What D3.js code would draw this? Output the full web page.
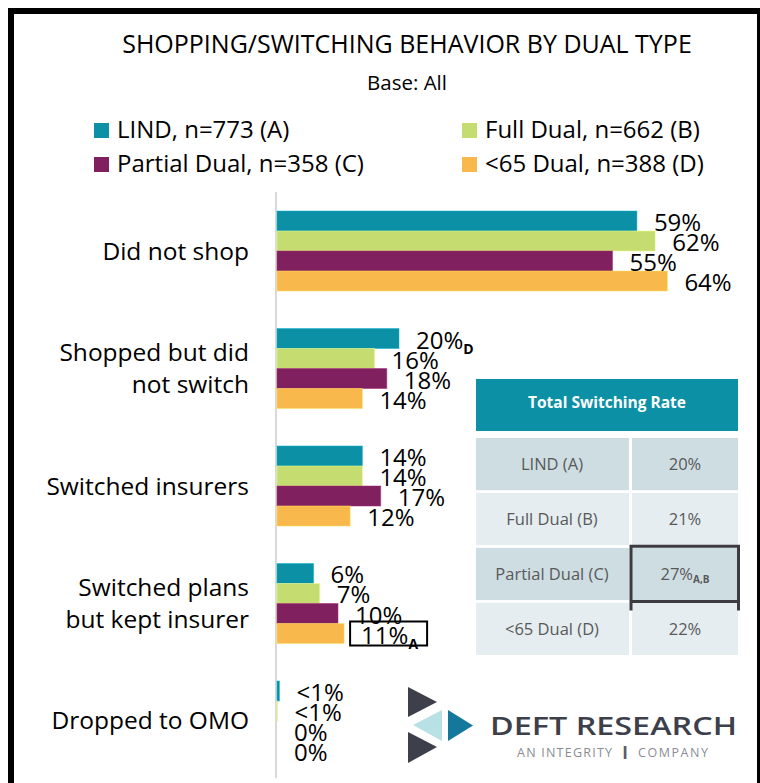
<!DOCTYPE html>
<html>
<head>
<meta charset="utf-8">
<script src="https://cdn.jsdelivr.net/npm/d3@7"></script>
<style>
  html, body { margin: 0; padding: 0; background: #fff; }
  svg { display: block; }
  text { font-family: "Open Sans", "Noto Sans", sans-serif; }
</style>
</head>
<body>
<svg id="chart" width="760" height="783"></svg>
<script>
// ---- data ----
const categories = ["Did not shop", "Shopped but did not switch", "Switched insurers",
                    "Switched plans but kept insurer", "Dropped to OMO"];
const categoryLines = [["Did not shop"], ["Shopped but did", "not switch"], ["Switched insurers"],
                       ["Switched plans", "but kept insurer"], ["Dropped to OMO"]];
const seriesNames = ["LIND, n=773 (A)", "Full Dual, n=662 (B)", "Partial Dual, n=358 (C)", "<65 Dual, n=388 (D)"];
const seriesColors = ["#0b90a6", "#c5dd70", "#80205e", "#f8b84b"];

const lindValues     = [59, 20, 14, 6, 0.4];
const fullDualValues = [62, 16, 14, 7, 0.1];
const partialValues  = [55, 18, 17, 10, 0];
const under65Values  = [64, 14, 12, 11, 0];

// significance letters (higher than the named group)
const lindSig     = ["", "D", "", "", ""];
const fullDualSig = ["", "", "", "", ""];
const partialSig  = ["", "", "", "", ""];
const under65Sig  = ["", "", "", "A", ""];

const seriesValues = [lindValues, fullDualValues, partialValues, under65Values];
const seriesSig = [lindSig, fullDualSig, partialSig, under65Sig];

const tableRows   = ["LIND (A)", "Full Dual (B)", "Partial Dual (C)", "<65 Dual (D)"];
const tableValues = [20, 21, 27, 22];
const tableSig    = ["", "", "A,B", ""];

// ---- layout ----
const svg = d3.select("#chart");

const x = d3.scaleLinear().domain([0, 100]).range([277, 887]);
const y = d3.scaleBand().domain(categories).range([211, 761]).paddingInner(0.319).paddingOuter(0);
const ySub = d3.scaleBand().domain(seriesNames).range([0, y.bandwidth()]);
const color = d3.scaleOrdinal().domain(seriesNames).range(seriesColors);

const fmt = v => (v > 0 && v < 1) ? "<1%" : Math.round(v) + "%";

// frame
svg.append("rect").attr("x", 8).attr("y", 8).attr("width", 752).attr("height", 6).attr("fill", "#000");
svg.append("rect").attr("x", 8).attr("y", 8).attr("width", 6).attr("height", 775).attr("fill", "#000");
svg.append("rect").attr("x", 757).attr("y", 8).attr("width", 3).attr("height", 775).attr("fill", "#000");

// title
svg.append("text").attr("x", 407).attr("y", 53).attr("text-anchor", "middle")
  .attr("font-size", 25).attr("fill", "#000")
  .text("SHOPPING/SWITCHING BEHAVIOR BY DUAL TYPE");
svg.append("text").attr("x", 407).attr("y", 90).attr("text-anchor", "middle")
  .attr("font-size", 20.5).attr("fill", "#000").text("Base: All");

// legend
const legendPos = [[94, 123], [462, 123], [94, 157], [462, 157]];
const legend = svg.append("g").selectAll("g").data(seriesNames).join("g")
  .attr("transform", (d, i) => `translate(${legendPos[i][0]},${legendPos[i][1]})`);
legend.append("rect").attr("width", 15).attr("height", 15).attr("fill", d => color(d));
legend.append("text").attr("x", 23).attr("y", 15).attr("font-size", 24).attr("fill", "#000").text(d => d);

// axis line
const yAxis = d3.axisLeft(y).tickSize(0).tickFormat("");
svg.append("g").attr("transform", "translate(276,0)").call(yAxis)
  .call(g => g.select(".domain").attr("stroke", "#d9d9d9").attr("stroke-width", 2)
    .attr("d", "M0,192V778"));

// category labels
const catG = svg.append("g").selectAll("text").data(categories).join("text")
  .attr("text-anchor", "end")
  .attr("font-size", 24.5)
  .attr("fill", "#000");
catG.each(function(d, i) {
  const lines = categoryLines[i];
  const cy = y(d) + y.bandwidth() / 2;
  const lh = 32;
  const t = d3.select(this);
  lines.forEach((ln, j) => {
    t.append("tspan").attr("x", 249)
      .attr("y", cy + (j - (lines.length - 1) / 2) * lh + 8.5)
      .text(ln);
  });
});

// bars
const flat = [];
seriesNames.forEach((s, si) => {
  categories.forEach((c, ci) => {
    flat.push({ series: s, cat: c, value: seriesValues[si][ci], sig: seriesSig[si][ci], si, ci });
  });
});

svg.append("g").selectAll("rect").data(flat).join("rect")
  .attr("x", x(0))
  .attr("y", d => y(d.cat) + ySub(d.series))
  .attr("width", d => x(d.value) - x(0))
  .attr("height", ySub.bandwidth())
  .attr("fill", d => color(d.series))
  .attr("stroke", d => d3.color(color(d.series)).brighter(0.6))
  .attr("stroke-opacity", 0.5)
  .attr("stroke-width", 1);

// value labels
const labels = svg.append("g").selectAll("text").data(flat).join("text")
  .attr("x", d => x(d.value) + 17)
  .attr("y", d => y(d.cat) + ySub(d.series) + ySub.bandwidth())
  .attr("font-size", 24)
  .attr("fill", "#000");
labels.append("tspan").text(d => fmt(d.value));
labels.filter(d => d.sig).append("tspan")
  .attr("font-size", 14).attr("font-weight", 700).attr("dy", 5)
  .text(d => d.sig);

// box around the significant <65 label
const boxed = flat.filter(d => d.series === seriesNames[3] && d.sig);
svg.append("g").selectAll("rect").data(boxed).join("rect")
  .attr("x", d => x(d.value) + 6)
  .attr("y", d => y(d.cat) + ySub(d.series) - 2)
  .attr("width", 77)
  .attr("height", 24)
  .attr("fill", "none").attr("stroke", "#000").attr("stroke-width", 2);

// total switching rate table
const table = svg.append("g");
table.append("rect").attr("x", 476).attr("y", 379).attr("width", 262).attr("height", 52).attr("fill", "#0b90a6");
table.append("text").attr("x", 607).attr("y", 408).attr("text-anchor", "middle")
  .attr("font-size", 15.5).attr("font-weight", 700).attr("fill", "#fff").text("Total Switching Rate");

const rowY = d3.scaleBand().domain(tableRows).range([438, 655]).paddingInner(0.05);
const rowFill = ["#cedde2", "#e5edf0", "#cedde2", "#e5edf0"];
const rows = table.selectAll("g.row").data(tableRows).join("g").attr("class", "row");
rows.append("rect").attr("x", 476).attr("y", d => rowY(d)).attr("width", 153)
  .attr("height", rowY.bandwidth()).attr("fill", (d, i) => rowFill[i]);
rows.append("rect").attr("x", 632).attr("y", d => rowY(d)).attr("width", 106)
  .attr("height", rowY.bandwidth()).attr("fill", (d, i) => rowFill[i]);
rows.append("text").attr("x", 552).attr("y", d => rowY(d) + rowY.bandwidth() / 2 + 6)
  .attr("text-anchor", "middle").attr("font-size", 16.5).attr("fill", "#595959").text(d => d);
const valText = rows.append("text").attr("x", 685).attr("y", d => rowY(d) + rowY.bandwidth() / 2 + 6)
  .attr("text-anchor", "middle").attr("font-size", 16.5).attr("fill", "#595959");
valText.append("tspan").text((d, i) => tableValues[i] + "%");
valText.append("tspan").attr("font-size", 10).attr("font-weight", 700).attr("dy", 3)
  .text((d, i) => tableSig[i]);

// highlight around significant table cell
tableRows.forEach((r, i) => {
  if (!tableSig[i]) return;
  const y0 = rowY(r) - 1.5, y1 = rowY(r) + rowY.bandwidth() + 1.5;
  table.append("path")
    .attr("d", `M631,${y1 + 9}V${y0}H738.5V${y1 + 9}M631,${y1}H738.5`)
    .attr("fill", "none").attr("stroke", "#3b3b40").attr("stroke-width", 3);
});

// logo
const logo = svg.append("g");
logo.append("path").attr("d", "M408,687L437,702L408,717Z").attr("fill", "#3d3f4b");
logo.append("path").attr("d", "M413,725L442,710L442,741Z").attr("fill", "#b7e1e4");
logo.append("path").attr("d", "M448,710L473,725.5L448,741Z").attr("fill", "#13789c");
logo.append("path").attr("d", "M408,732L437,747L408,763Z").attr("fill", "#3d3f4b");
logo.append("text").attr("x", 490).attr("y", 735).attr("font-family", "Inter, Lato, sans-serif")
  .attr("font-weight", 600).attr("font-size", 25).attr("fill", "#3d3f4b")
  .attr("textLength", 247).attr("lengthAdjust", "spacingAndGlyphs").text("DEFT RESEARCH");
logo.append("text").attr("x", 517).attr("y", 757).attr("font-family", "Inter, Lato, sans-serif")
  .attr("font-size", 12.5).attr("fill", "#8a8c92")
  .attr("textLength", 95).attr("lengthAdjust", "spacing").text("AN INTEGRITY");
logo.append("text").attr("x", 625).attr("y", 759).attr("text-anchor", "middle")
  .attr("font-family", "DejaVu Serif, serif").attr("font-weight", 700)
  .attr("font-size", 17).attr("fill", "#5a5c62").text("I");
logo.append("text").attr("x", 638).attr("y", 757).attr("font-family", "Inter, Lato, sans-serif")
  .attr("font-size", 12.5).attr("fill", "#8a8c92")
  .attr("textLength", 70).attr("lengthAdjust", "spacing").text("COMPANY");
</script>
</body>
</html>
